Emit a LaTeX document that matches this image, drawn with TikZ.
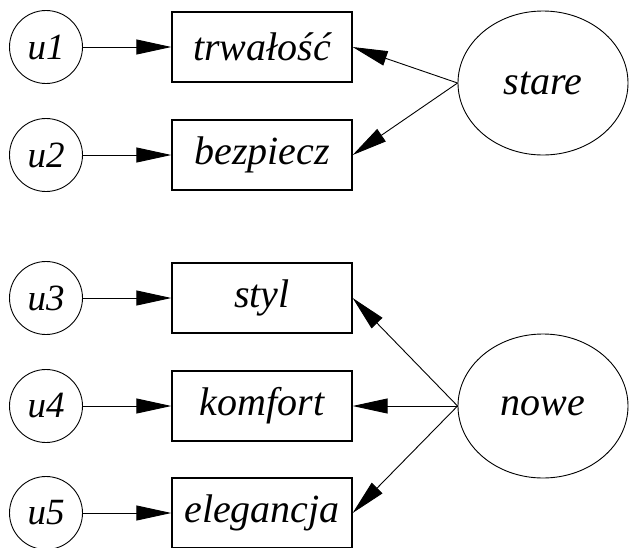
\documentclass[tikz,border=0pt]{standalone}
\usepackage{fontspec}
\setmainfont{Liberation Serif}
\usetikzlibrary{arrows.meta,shapes.geometric}
\begin{document}
\begin{tikzpicture}[x=1pt,y=-1pt,
  lat/.style={circle,draw,line width=0.9pt,minimum size=73pt,inner sep=0pt,font=\fontsize{37}{40}\selectfont\itshape},
  obs/.style={rectangle,draw,line width=1.3pt,minimum width=180pt,minimum height=70pt,inner sep=0pt,font=\fontsize{40}{42}\selectfont\itshape},
  fac/.style={ellipse,draw,line width=0.9pt,minimum width=170pt,minimum height=144pt,inner sep=0pt,font=\fontsize{40}{42}\selectfont\itshape},
  arr/.style={line width=0.9pt,-{Triangle[length=35pt,width=15pt]}}]
\useasboundingbox[fill=white] (0,0) rectangle (630,547);
\node[lat] (u1) at (46,47) {u1};
\node[lat] (u2) at (46,155) {u2};
\node[lat] (u3) at (46,298) {u3};
\node[lat] (u4) at (46,406) {u4};
\node[lat] (u5) at (46,513) {u5};
\node[obs] (b1) at (262,47) {trwałość};
\node[obs] (b2) at (262,155) {bezpiecz};
\node[obs] (b3) at (262,298) {styl};
\node[obs] (b4) at (262,406) {komfort};
\node[obs] (b5) at (262,513) {elegancja};
\node[fac] (stare) at (543,83) {stare};
\node[fac] (nowe) at (543,406) {nowe};
\foreach \i in {1,...,5} {\draw[arr] (u\i) -- (b\i);}
\draw[arr] (stare.west) -- (b1.east);
\draw[arr] (stare.west) -- (b2.east);
\draw[arr] (nowe.west) -- (b3.east);
\draw[arr] (nowe.west) -- (b4.east);
\draw[arr] (nowe.west) -- (b5.east);
\end{tikzpicture}
\end{document}
